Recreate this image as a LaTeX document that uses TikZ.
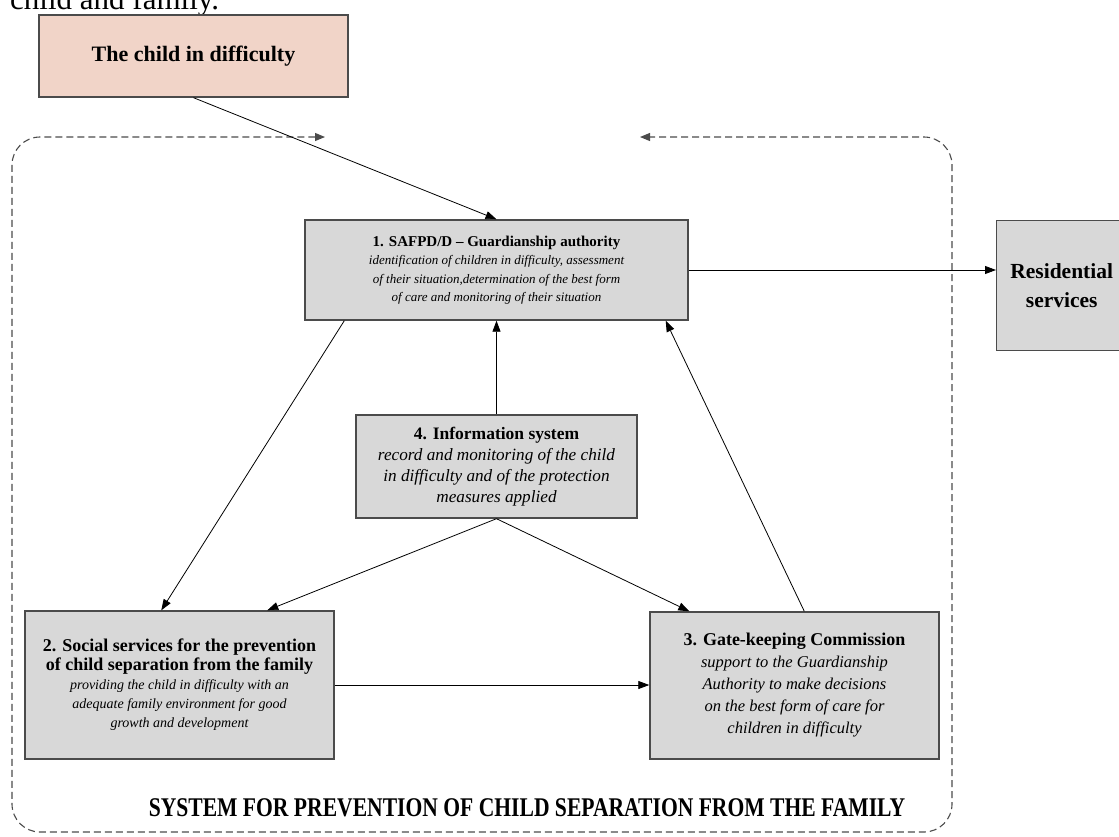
\documentclass[tikz,border=0pt]{standalone}
\usepackage{fontspec}
\setmainfont{Liberation Serif}
\usetikzlibrary{arrows.meta}
\definecolor{boxgray}{RGB}{216,216,216}
\definecolor{childpink}{RGB}{241,212,200}
\definecolor{edgegray}{RGB}{75,75,75}
\newcommand{\boxhead}[2]{{\fontsize{#1}{#1}\selectfont\upshape\bfseries #2}}
\tikzset{
  unit/.style={draw=edgegray, line width=1.4pt, fill=boxgray, align=center, inner sep=0pt},
  link/.style={-{Triangle[length=11pt,width=8pt]}, line width=0.8pt},
  frame/.style={dashed, dash pattern=on 7pt off 4pt, line width=1.1pt, draw=edgegray,
    rounded corners=28pt, {Triangle[length=10pt,width=8pt]}-{Triangle[length=10pt,width=8pt]}},
}

\begin{document}
\begin{tikzpicture}[x=1pt, y=-1pt]
\useasboundingbox (0,0) rectangle (1119,836);
% Text of the page above the figure
    \node[anchor=base west, inner sep=0pt, font=\fontsize{31}{31}\selectfont] (pagetext) at (10,9) {child and family.};
% Boxes
    \node[unit, fill=childpink, minimum width=309pt, minimum height=82pt] (child) at (193.5,56)
        {\boxhead{22}{The child in difficulty}};
    \node[unit, minimum width=383pt, minimum height=100pt, font=\itshape\fontsize{13}{18.5}\selectfont] (sap) at (496.5,270)
        {\boxhead{15}{1. SAFPD/D -- Guardianship authority}\\
         identification of children in difficulty, assessment\\
         of their situation,determination of the best form\\
         of care and monitoring of their situation};
    \node[unit, minimum width=130pt, minimum height=130pt, anchor=north west, font=\fontsize{21.5}{29}\selectfont\bfseries] (resid) at (996,220)
        {Residential\\services};
    \node[unit, minimum width=281pt, minimum height=103pt, font=\itshape\fontsize{17.2}{21}\selectfont] (info) at (496.5,466.5)
        {\boxhead{17.5}{4. Information system}\\
         record and monitoring of the child\\
         in difficulty and of the protection\\
         measures applied};
    \node[unit, minimum width=309pt, minimum height=148pt, font=\itshape\fontsize{14}{19}\selectfont] (social) at (179.5,685)
        {\boxhead{18}{2. Social services for the prevention}\\
         \boxhead{18}{of child separation from the family}\\
         providing the child in difficulty with an\\
         adequate family environment for good\\
         growth and development};
    \node[unit, minimum width=289pt, minimum height=147pt, font=\itshape\fontsize{16.5}{22}\selectfont] (gate) at (794.5,685.5)
        {\boxhead{18}{3. Gate-keeping Commission}\\
         support to the Guardianship\\
         Authority to make decisions\\
         on the best form of care for\\
         children in difficulty};
% System border
    \draw[frame] (325,137) -- (12,137) -- (12,832) -- (952,832) -- (952,137) -- (640,137);
    \node[inner sep=0pt] (system) at (527,808)
        {\scalebox{0.8}[1]{\fontsize{27}{27}\selectfont\bfseries SYSTEM FOR PREVENTION OF CHILD SEPARATION FROM THE FAMILY}};
% Arrows
    \draw[link] (child.south) -- (sap.north);
    \draw[link] (sap.east) -- (sap.east -| resid.west);
    \draw[link] (info.north) -- (sap.south);
    \draw[link] ([xshift=40pt]sap.south west) -- ([xshift=137pt]social.north west);
    \draw[link] (info.south) -- ([xshift=243pt]social.north west);
    \draw[link] (info.south) -- ([xshift=40pt]gate.north west);
    \draw[link] ([xshift=155pt]gate.north west) -- ([xshift=-23pt]sap.south east);
    \draw[link] (social.east) -- (social.east -| gate.west);
\end{tikzpicture}
\end{document}
